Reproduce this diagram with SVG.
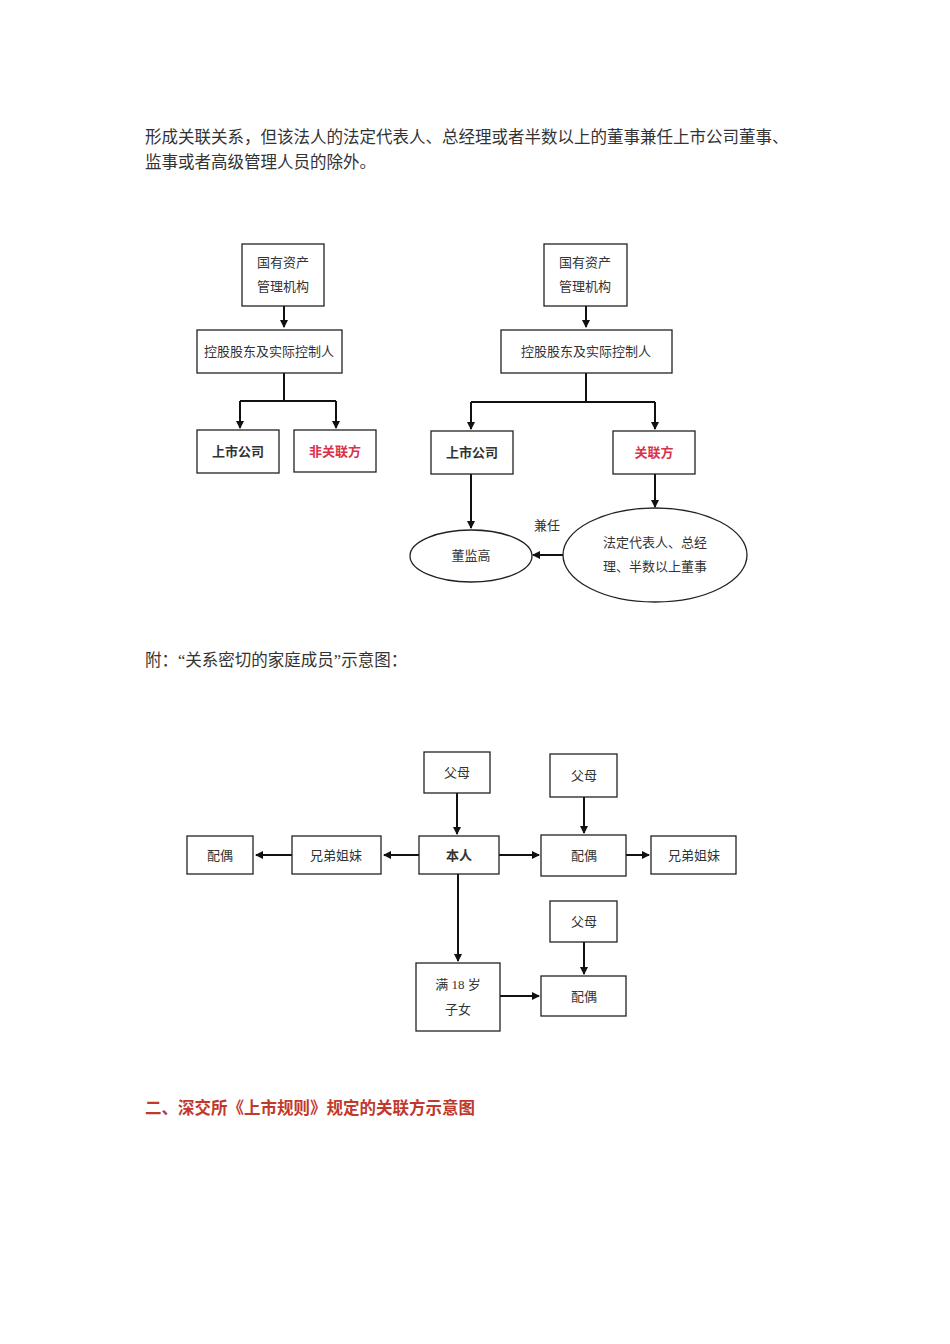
<svg xmlns="http://www.w3.org/2000/svg" width="950" height="1344" viewBox="0 0 950 1344">
<style>
text{font-family:"Liberation Serif","Noto Sans CJK SC",serif;fill:#333}
.b rect,.b ellipse{fill:#fff;stroke:#222;stroke-width:1.3}
.n{font-size:13px;text-anchor:middle}
.bold{font-weight:bold}
.red{fill:#d9324a}
.c path{fill:none;stroke:#111;stroke-width:2}
</style>
<defs><marker id="a" markerWidth="8" markerHeight="8" refX="7" refY="4" orient="auto" markerUnits="userSpaceOnUse"><path d="M0,0 L8,4 L0,8Z" fill="#111"/></marker></defs>
<rect width="950" height="1344" fill="#fff"/>
<text x="145" y="143" font-size="16.5">形成关联关系，但该法人的法定代表人、总经理或者半数以上的董事兼任上市公司董事、</text>
<text x="145" y="168" font-size="16.5">监事或者高级管理人员的除外。</text>
<text x="145" y="666" font-size="16.5">附：“关系密切的家庭成员”示意图：</text>
<text x="145" y="1114" font-size="16.5" class="bold" style="fill:#c0392b">二、深交所《上市规则》规定的关联方示意图</text>

<g class="c">
<path d="M284,306V327" marker-end="url(#a)"/>
<path d="M284,373V401M240,401H336M240,401V428M336,401V428" marker-end="url(#a)"/>
<path d="M240,401V428" marker-end="url(#a)"/>
<path d="M586,306V327" marker-end="url(#a)"/>
<path d="M586,373V402M471,402H655M471,402V429" marker-end="url(#a)"/>
<path d="M655,402V429" marker-end="url(#a)"/>
<path d="M471,474V528" marker-end="url(#a)"/>
<path d="M655,474V507" marker-end="url(#a)"/>
<path d="M564,555H533" marker-end="url(#a)"/>
<path d="M457,793V834" marker-end="url(#a)"/>
<path d="M419,855H384" marker-end="url(#a)"/>
<path d="M292,855H256" marker-end="url(#a)"/>
<path d="M499,855H539" marker-end="url(#a)"/>
<path d="M584,797V833" marker-end="url(#a)"/>
<path d="M626,855H649" marker-end="url(#a)"/>
<path d="M458,874V961" marker-end="url(#a)"/>
<path d="M584,942V974" marker-end="url(#a)"/>
<path d="M500,996H539" marker-end="url(#a)"/>
</g>

<g class="b">
<g id="n1"><rect x="242" y="244" width="82" height="62"/><text class="n" x="283" y="267">国有资产</text><text class="n" x="283" y="291">管理机构</text></g>
<g id="n2"><rect x="197" y="330" width="145" height="43"/><text class="n" x="269" y="356">控股股东及实际控制人</text></g>
<g id="n3"><rect x="197" y="430" width="82" height="43"/><text class="n bold" x="238" y="456">上市公司</text></g>
<g id="n4"><rect x="294" y="430" width="82" height="42"/><text class="n bold red" x="335" y="456">非关联方</text></g>
<g id="n5"><rect x="544" y="244" width="83" height="62"/><text class="n" x="585" y="267">国有资产</text><text class="n" x="585" y="291">管理机构</text></g>
<g id="n6"><rect x="501" y="330" width="171" height="43"/><text class="n" x="586" y="356">控股股东及实际控制人</text></g>
<g id="n7"><rect x="431" y="431" width="82" height="43"/><text class="n bold" x="472" y="457">上市公司</text></g>
<g id="n8"><rect x="613" y="431" width="82" height="43"/><text class="n bold red" x="654" y="457">关联方</text></g>
<g id="n9"><ellipse cx="471" cy="556" rx="61" ry="26"/><text class="n" x="471" y="560">董监高</text></g>
<g id="n10"><ellipse cx="655" cy="555" rx="92" ry="47"/><text class="n" x="655" y="547">法定代表人、总经</text><text class="n" x="655" y="571">理、半数以上董事</text></g>
<text class="n" x="547" y="530">兼任</text>

<g id="f1"><rect x="424" y="752" width="66" height="41"/><text class="n" x="457" y="777">父母</text></g>
<g id="f2"><rect x="419" y="836" width="80" height="38"/><text class="n bold" x="459" y="860">本人</text></g>
<g id="f3"><rect x="292" y="836" width="89" height="38"/><text class="n" x="336" y="860">兄弟姐妹</text></g>
<g id="f4"><rect x="187" y="836" width="66" height="38"/><text class="n" x="220" y="860">配偶</text></g>
<g id="f5"><rect x="541" y="835" width="85" height="41"/><text class="n" x="584" y="860">配偶</text></g>
<g id="f6"><rect x="550" y="754" width="67" height="43"/><text class="n" x="584" y="780">父母</text></g>
<g id="f7"><rect x="651" y="836" width="85" height="38"/><text class="n" x="694" y="860">兄弟姐妹</text></g>
<g id="f8"><rect x="550" y="901" width="67" height="41"/><text class="n" x="584" y="926">父母</text></g>
<g id="f9"><rect x="541" y="976" width="85" height="40"/><text class="n" x="584" y="1001">配偶</text></g>
<g id="f10"><rect x="416" y="963" width="84" height="68"/><text class="n" x="458" y="989">满 18 岁</text><text class="n" x="458" y="1014">子女</text></g>
</g>
</svg>
